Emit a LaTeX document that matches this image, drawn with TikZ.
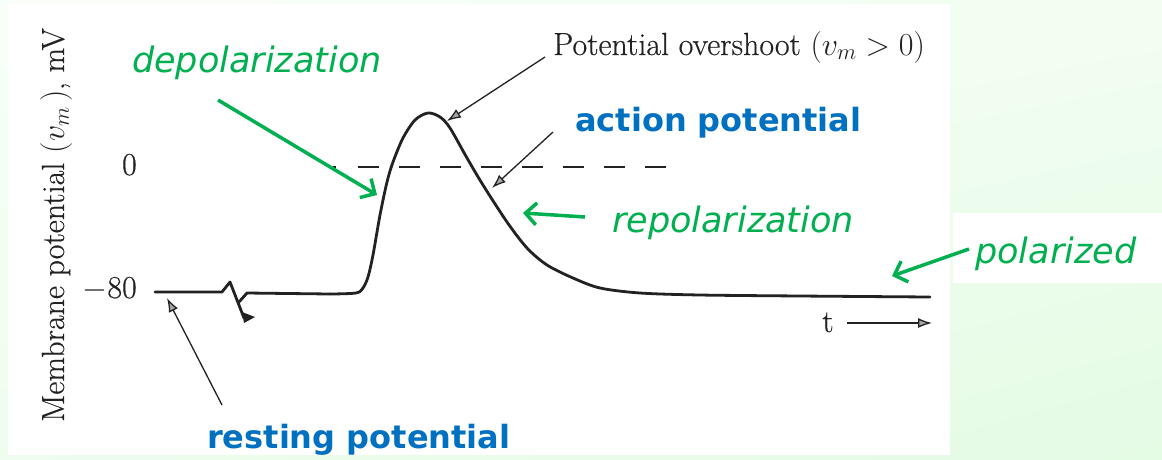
\RequirePackage{fix-cm}
\documentclass[tikz,border=0pt]{standalone}
\usepackage{fontspec}
\newfontfamily\lab{DejaVu Sans}
\newfontfamily\scanrm{Latin Modern Roman}[FakeBold=0.4]
\usetikzlibrary{arrows.meta,shadings}
\definecolor{lgreen}{HTML}{00B050}
\definecolor{lblue}{HTML}{0070C0}
\definecolor{bgA}{HTML}{F8FFF8}
\definecolor{bgB}{HTML}{E4FBE4}
\definecolor{ink}{HTML}{222222}
\begin{document}
\begin{tikzpicture}[x=1pt,y=-1pt,
  scan/.style={inner sep=0pt,text=ink,font=\scanrm\fontsize{32}{38}\selectfont},
  greenlab/.style={inner sep=0pt,text=lgreen,font=\lab\itshape\fontsize{35}{40}\selectfont},
  bluelab/.style={inner sep=0pt,text=lblue,font=\lab\bfseries\fontsize{32}{38}\selectfont},
  curve/.style={draw=ink,line width=2.8pt,line join=round,line cap=round},
  blackarrow/.style={draw=ink,line width=1.3pt,-{Latex[length=14pt,width=10pt,fill=gray!70]}},
  greenarrow/.style={draw=lgreen,line width=3.5pt,-{Straight Barb[length=11pt,width=22pt,line width=3.5pt]}},
]
\useasboundingbox (0,0) rectangle (1162,459);
% background
\shade[upper left=bgA,upper right=bgA!70!bgB,lower left=bgA!50!bgB,lower right=bgB] (0,0) rectangle (1162,459);
\fill[white] (8,4) rectangle (950,455);
\fill[white] (953,213) rectangle (1162,283);

% axis label and ticks
\node[scan,rotate=90,anchor=base] (ylab) at (64,225) {Membrane potential $(v_m\,)$, mV};
\node[scan,anchor=base east] (zero) at (137,175) {0};
\node[scan,anchor=base east] (m80) at (137,298) {$-$80};

% dashed zero line
\coordinate (d0) at (333,167);
\coordinate (d1) at (666,167);
\draw[ink,line width=2pt,dash pattern=on 3pt off 22pt on 21pt off 20pt on 21pt off 20pt on 21pt off 20pt on 21pt off 20pt on 21pt off 20pt on 21pt off 20pt on 21pt off 20pt on 21pt off 22pt] (d0) -- (d1);

% membrane potential curve
\draw[curve] (155,292) -- (222,292) -- (230,282) -- (244,318);
\draw[curve] (239,302) -- (247,293) -- (330,294);
\fill[ink] (242,312) -- (255,317) -- (244,323) -- cycle;
\draw[curve] plot[smooth,tension=0.5] coordinates {(330,294) (356,293) (363,288) (368,277) (373,255) (380,215) (387,182) (393,162) (403,138) (415,120) (428,113) (440,117) (450,128) (467,158) (483,185) (507,222) (527,248) (547,265) (573,278) (600,288) (640,293) (700,295) (800,296) (930,297)};

% time arrow
\node[scan,anchor=base] (t) at (828,332) {t};
\coordinate (ta) at (847,323);
\coordinate (tb) at (932,323);
\draw[blackarrow] (ta) -- (tb);

% book annotations
\node[scan,anchor=base west] (ovs) at (553,55) {Potential overshoot $(v_m > 0)$};
\coordinate (ovsA) at (545,57);
\coordinate (peak) at (447,121);
\draw[blackarrow] (ovsA) -- (peak);

\node[bluelab,anchor=base west] (ap) at (575,131) {action potential};
\coordinate (apA) at (553,132);
\coordinate (apB) at (492,188);
\draw[blackarrow] (apA) -- (apB);

\node[bluelab,anchor=base west] (rp) at (207,448) {resting potential};
\coordinate (rpA) at (222,405);
\coordinate (rpB) at (167,298);
\draw[blackarrow] (rpA) -- (rpB);

% green labels
\node[greenlab,anchor=base west] (dep) at (132,72) {depolarization};
\coordinate (depA) at (218,100);
\coordinate (depB) at (377,195);
\draw[greenarrow] (depA) -- (depB);

\node[greenlab,anchor=base west] (rep) at (612,232) {repolarization};
\coordinate (repA) at (585,217);
\coordinate (repB) at (523,213);
\draw[greenarrow] (repA) -- (repB);

\node[greenlab,anchor=base west] (pol) at (975,263) {polarized};
\coordinate (polA) at (969,249);
\coordinate (polB) at (892,276);
\draw[greenarrow] (polA) -- (polB);
\end{tikzpicture}
\end{document}
